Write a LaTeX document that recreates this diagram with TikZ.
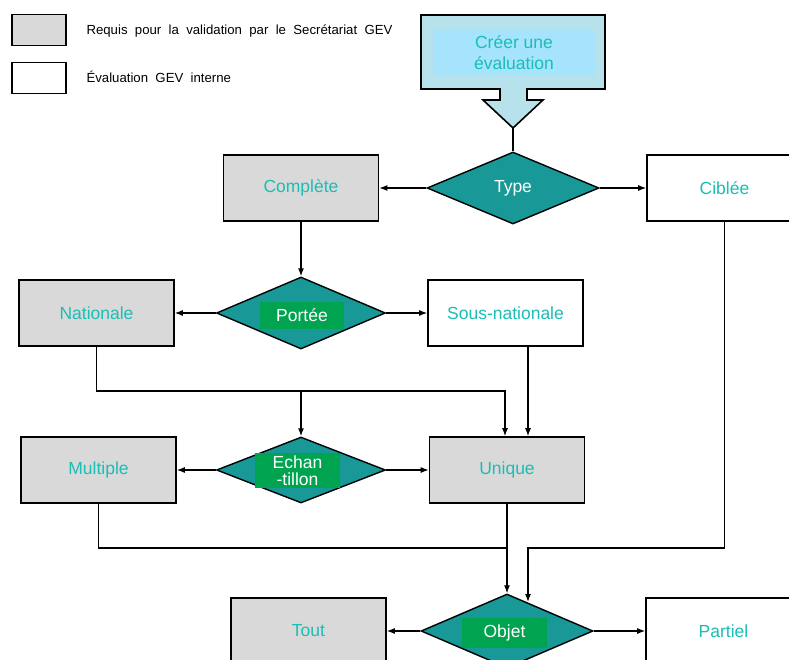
\documentclass[tikz,border=0pt]{standalone}
\usepackage{fontspec}
\setmainfont{Liberation Sans}
\newfontfamily\legendfont[WordSpace=2]{Liberation Sans}
\usetikzlibrary{shapes.geometric}
\usetikzlibrary{arrows.meta}
\definecolor{boxgray}{RGB}{217,217,217}
\definecolor{diateal}{RGB}{24,152,150}
\definecolor{taggreen}{RGB}{0,164,80}
\definecolor{txtcyan}{RGB}{26,190,180}
\definecolor{calloutblue}{RGB}{183,226,235}
\definecolor{calloutinner}{RGB}{165,228,250}
\newcommand{\widthbox}{155pt}
\newcommand{\heightbox}{66pt}
\newcommand{\widthchoice}{172pt}
\tikzset{
    common/.style={draw, line width=1.6pt, rectangle, minimum width=\widthbox, minimum height=\heightbox, text=txtcyan, font=\fontsize{17.5}{20}\selectfont},
    required/.style={common, fill=boxgray},
    internal/.style={common, fill=white},
    legendbox/.style={draw, line width=1.6pt, rectangle, minimum width=54pt, minimum height=31pt},
    legendtext/.style={anchor=west, font=\legendfont\fontsize{13.2}{15}\selectfont},
    choice/.style={draw, line width=1.4pt, diamond, fill=diateal, minimum width=\widthchoice, minimum height=72pt, inner sep=0pt},
    tag/.style={fill=taggreen, text=white, inner sep=0pt, align=center, font=\fontsize{17.5}{17.5}\selectfont},
    link/.style={line width=1.2pt, -{Latex[length=8pt,width=6pt]}},
    plain/.style={line width=1.2pt}
}

\begin{document}
\begin{tikzpicture}[x=1pt, y=-1pt]
    \clip (0,0) rectangle (789,660);
    \fill[white] (0,0) rectangle (789,660);

    \node[legendbox, fill=boxgray] (legreq) at (39,30) {};
    \node[legendbox, fill=white] (legint) at (39,78) {};
    \node[legendtext] at (83,31) {Requis pour la validation par le Secrétariat GEV};
    \node[legendtext] at (83,77) {Évaluation GEV interne};

    \draw[line width=1.6pt, fill=calloutblue]
        (421,15) -- (605,15) -- (605,89) -- (527,89) -- (527,100) -- (543,100)
        -- (513,128) -- (483,100) -- (500,100) -- (500,89) -- (421,89) -- cycle;
    \coordinate (tip) at (513,128);
    \node[fill=calloutinner, minimum width=162pt, minimum height=47pt, text=txtcyan, align=center,
          font=\fontsize{17.5}{21}\selectfont] (creer) at (514,53) {Créer une\\évaluation};

    \node[choice] (type) at (513,188) {};
    \node[text=white, font=\fontsize{17.5}{19}\selectfont] at (type) {Type};
    \node[required] (complete) at (301,188) {Complète};
    \node[internal] (ciblee) at (724.5,188) {Ciblée};

    \node[choice, minimum width=169pt] (portee) at (301,313) {};
    \node[tag, minimum width=84pt, minimum height=27pt] at (302,315.5) {Portée};
    \node[required] (nationale) at (96.5,313) {Nationale};
    \node[internal] (sousnat) at (505.5,313) {Sous-nationale};

    \node[choice, minimum width=169pt, minimum height=66pt] (echan) at (301,470) {};
    \node[tag, minimum width=85pt, minimum height=35pt] at (297.5,470.5) {Echan\\-tillon};
    \node[required] (multiple) at (98.5,470) {Multiple};
    \node[required] (unique) at (507,470) {Unique};

    \node[choice, minimum width=\widthchoice, minimum height=74pt] (objet) at (507,631) {};
    \node[tag, minimum width=85pt, minimum height=30pt] at (504.5,633) {Objet};
    \node[required] (tout) at (308.5,631) {Tout};
    \node[internal] (partiel) at (723.5,631) {Partiel};

    \coordinate (natjoin) at (505,391);
    \coordinate (sousout) at (528,346);
    \coordinate (multjoin) at (507,548);
    \coordinate (cibjoin) at (528,548);
    \coordinate (objin) at (528,602);

    \draw[plain] (tip) -- (type.north);
    \draw[link] (type.west) -- (complete.east);
    \draw[link] (type.east) -- (ciblee.west);
    \draw[link] (complete.south) -- (portee.north);
    \draw[link] (portee.west) -- (nationale.east);
    \draw[link] (portee.east) -- (sousnat.west);
    \draw[link] (nationale.south) |- (natjoin) -- (natjoin |- unique.north);
    \draw[link] (echan.north |- natjoin) -- (echan.north);
    \draw[link] (sousout) -- (sousout |- unique.north);
    \draw[link] (echan.west) -- (multiple.east);
    \draw[link] (echan.east) -- (unique.west);
    \draw[plain] (multiple.south) |- (multjoin);
    \draw[link] (unique.south) -- (objet.north);
    \draw[link] (ciblee.south) |- (cibjoin) -- (objin);
    \draw[link] (objet.west) -- (tout.east);
    \draw[link] (objet.east) -- (partiel.west);
\end{tikzpicture}
\end{document}
